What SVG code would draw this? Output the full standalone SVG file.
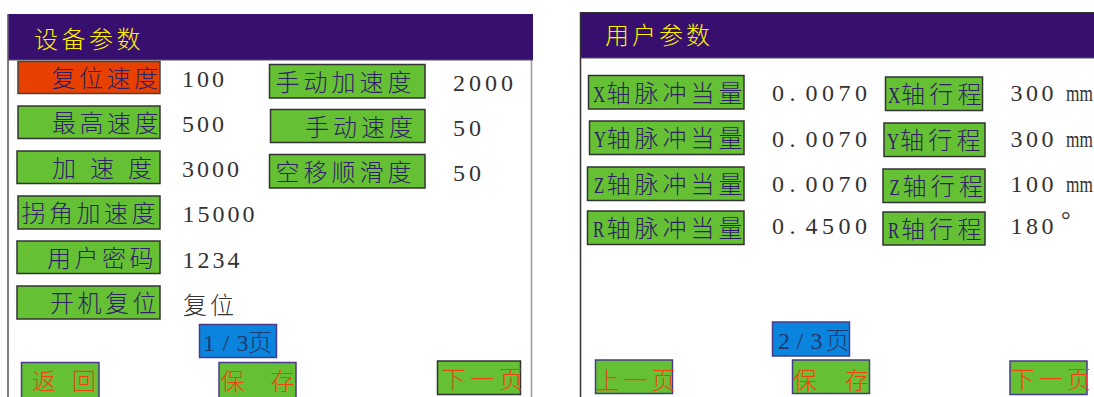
<svg xmlns="http://www.w3.org/2000/svg" width="1094" height="397" viewBox="0 0 1094 397">
<style>
.cjk{font-family:"Noto Sans CJK SC","Noto Sans",sans-serif;font-size:24px;font-weight:300}
.lbl{fill:#2e1f66;letter-spacing:3.5px}
.rl{fill:#2e1f66;letter-spacing:4px}
.rs{fill:#2e1f66;letter-spacing:4.3px}
.lat{font-family:"Liberation Serif",serif;font-size:24px;fill:#2e1f66}
.val{font-family:"Liberation Serif",serif;font-size:24px;fill:#333;letter-spacing:3px}
.title{fill:#fff000;letter-spacing:3.5px}
.box{fill:#66c033;stroke:#333;stroke-width:1.5}
.red{fill:#e84000;stroke:#444;stroke-width:1.5}
.nav{fill:#66c033;stroke:#4a3a8a;stroke-width:1.5}
.page{fill:#0a84dc;stroke:#4a3a8a;stroke-width:1.5}
.btn{fill:#ee4411}
.pg{font-family:"Liberation Serif",serif;font-size:24px;fill:#1f3a6e}
.hdr{fill:#37106f}
</style>
<g id="connectors"/>
<!-- left panel -->
<g id="panel-left">
<rect x="8" y="14" width="524" height="390" fill="#fff" stroke="none"/>
<line x1="8" y1="14" x2="8" y2="397" stroke="#555" stroke-width="1.5"/>
<line x1="531.5" y1="14" x2="531.5" y2="397" stroke="#999" stroke-width="1.5"/>
<rect class="hdr" x="8.5" y="14" width="524.5" height="46"/>
<line x1="8" y1="60" x2="533" y2="60" stroke="#555" stroke-width="1"/>
<text class="cjk title" x="34" y="48">设备参数</text>
</g>
<g id="n-reset-speed"><rect class="red" x="18" y="61.5" width="142" height="32"/><text class="cjk lbl" x="51.5" y="87">复位速度</text><text class="val" x="182" y="87">100</text></g>
<g id="n-max-speed"><rect class="box" x="18" y="106" width="142" height="32.5"/><text class="cjk lbl" x="52" y="132">最高速度</text><text class="val" x="182" y="131.5">500</text></g>
<g id="n-accel"><rect class="box" x="17" y="151" width="143" height="32.5"/><text class="cjk lbl" y="177"><tspan x="52">加</tspan><tspan x="90">速</tspan><tspan x="128">度</tspan></text><text class="val" x="182" y="177">3000</text></g>
<g id="n-corner-accel"><rect class="box" x="18" y="196" width="142" height="33"/><text class="cjk lbl" x="21.5" y="222">拐角加速度</text><text class="val" x="182.5" y="222">15000</text></g>
<g id="n-user-pwd"><rect class="box" x="17" y="241" width="143" height="32.5"/><text class="cjk lbl" x="47" y="267">用户密码</text><text class="val" x="182.5" y="268">1234</text></g>
<g id="n-boot-reset"><rect class="box" x="17" y="286" width="143" height="33"/><text class="cjk lbl" x="50" y="312">开机复位</text><text class="cjk" x="183" y="314" fill="#333" style="letter-spacing:3px">复位</text></g>
<g id="n-manual-accel"><rect class="box" x="269.5" y="64.5" width="155.5" height="33.5"/><text class="cjk lbl" x="275.5" y="90.5" style="letter-spacing:4px">手动加速度</text><text class="val" x="453" y="90.5" style="letter-spacing:4px">2000</text></g>
<g id="n-manual-speed"><rect class="box" x="270.5" y="109.5" width="154.5" height="33"/><text class="cjk lbl" x="305" y="135.5" style="letter-spacing:4px">手动速度</text><text class="val" x="453" y="135.5" style="letter-spacing:4px">50</text></g>
<g id="n-smooth"><rect class="box" x="269.5" y="154.5" width="155.5" height="33.5"/><text class="cjk lbl" x="275.5" y="180.5" style="letter-spacing:4px">空移顺滑度</text><text class="val" x="453" y="180.5" style="letter-spacing:4px">50</text></g>
<g id="n-page1"><rect class="page" x="199.5" y="324.5" width="77" height="33"/><text class="pg" y="351"><tspan x="203 222.5 236.5">1/3</tspan><tspan class="cjk" x="248" style="font-weight:300">页</tspan></text></g>
<g id="n-back"><rect class="nav" x="21.5" y="362.5" width="77.5" height="40"/><text class="cjk btn" y="390"><tspan x="32">返</tspan><tspan x="72">回</tspan></text></g>
<g id="n-save1"><rect class="nav" x="219" y="362.5" width="77" height="40"/><text class="cjk btn" y="390"><tspan x="220.5">保</tspan><tspan x="270.5">存</tspan></text></g>
<g id="n-next1"><rect class="box" x="437.5" y="361" width="83" height="33.5"/><text class="cjk btn" x="441.5" y="388" style="letter-spacing:4.7px">下一页</text></g>
<!-- right panel -->
<g id="panel-right">
<line x1="580.5" y1="12" x2="580.5" y2="397" stroke="#333" stroke-width="1.5"/>
<rect class="hdr" x="581" y="12" width="513" height="46"/>
<line x1="580" y1="12.5" x2="1094" y2="12.5" stroke="#333" stroke-width="1"/>
<line x1="581" y1="58" x2="1094" y2="58" stroke="#555" stroke-width="1"/>
<text class="cjk title" x="605" y="44" style="letter-spacing:3px">用户参数</text>
</g>
<g id="n-x-pulse"><rect class="box" x="588.5" y="75.5" width="155.5" height="33.5"/><text class="lat" transform="translate(593 101.5) scale(0.7 1)">X</text><text class="cjk rl" x="606.5" y="101.5">轴脉冲当量</text><text class="val" y="101"><tspan x="772 789.5 805.5 822 838.5 855">0.0070</tspan></text></g>
<g id="n-y-pulse"><rect class="box" x="589.5" y="121" width="154.5" height="33.5"/><text class="lat" transform="translate(594 147) scale(0.7 1)">Y</text><text class="cjk rl" x="606.5" y="147">轴脉冲当量</text><text class="val" y="146.5"><tspan x="772 789.5 805.5 822 838.5 855">0.0070</tspan></text></g>
<g id="n-z-pulse"><rect class="box" x="587.5" y="167" width="156.5" height="33.5"/><text class="lat" transform="translate(594 193) scale(0.7 1)">Z</text><text class="cjk rl" x="606.5" y="193">轴脉冲当量</text><text class="val" y="192"><tspan x="772 789.5 805.5 822 838.5 855">0.0070</tspan></text></g>
<g id="n-r-pulse"><rect class="box" x="587.5" y="211" width="156.5" height="33.5"/><text class="lat" transform="translate(593 237) scale(0.7 1)">R</text><text class="cjk rl" x="606.5" y="237">轴脉冲当量</text><text class="val" y="234"><tspan x="772 789.5 805.5 822 838.5 855">0.4500</tspan></text></g>
<g id="n-x-travel"><rect class="box" x="885.5" y="77" width="97" height="33.5"/><text class="lat" transform="translate(888 103) scale(0.7 1)">X</text><text class="cjk rs" x="901" y="103">轴行程</text><text class="val" x="1010.5" y="101" style="letter-spacing:3.5px">300</text><text class="val" transform="translate(1066 101) scale(0.72 1)" style="letter-spacing:0">mm</text></g>
<g id="n-y-travel"><rect class="box" x="884" y="123" width="101" height="33.5"/><text class="lat" transform="translate(887 149) scale(0.7 1)">Y</text><text class="cjk rs" x="900" y="149">轴行程</text><text class="val" x="1010.5" y="146.5" style="letter-spacing:3.5px">300</text><text class="val" transform="translate(1066 146.5) scale(0.72 1)" style="letter-spacing:0">mm</text></g>
<g id="n-z-travel"><rect class="box" x="883" y="169" width="102" height="33.5"/><text class="lat" transform="translate(889.5 195) scale(0.7 1)">Z</text><text class="cjk rs" x="902.5" y="195">轴行程</text><text class="val" x="1010.5" y="192" style="letter-spacing:3.5px">100</text><text class="val" transform="translate(1066 192) scale(0.72 1)" style="letter-spacing:0">mm</text></g>
<g id="n-r-travel"><rect class="box" x="883" y="212" width="102" height="33"/><text class="lat" transform="translate(888 238) scale(0.7 1)">R</text><text class="cjk rs" x="901" y="238">轴行程</text><text class="val" x="1010.5" y="234" style="letter-spacing:3.5px">180<tspan x="1061" y="228">°</tspan></text></g>
<g id="n-page2"><rect class="page" x="772.5" y="322" width="77" height="34"/><text class="pg" y="349"><tspan x="778 796.5 810.5">2/3</tspan><tspan class="cjk" x="825.5" style="font-weight:300">页</tspan></text></g>
<g id="n-prev"><rect class="nav" x="595.5" y="360" width="77" height="33.5"/><text class="cjk btn" x="595.5" y="389" style="letter-spacing:4px">上一页</text></g>
<g id="n-save2"><rect class="nav" x="792.5" y="360" width="77" height="33.5"/><text class="cjk btn" y="389"><tspan x="793">保</tspan><tspan x="845">存</tspan></text></g>
<g id="n-next2"><rect class="nav" x="1010" y="361" width="77" height="33.5"/><text class="cjk btn" x="1010.5" y="388" style="letter-spacing:4.3px">下一页</text></g>
</svg>
